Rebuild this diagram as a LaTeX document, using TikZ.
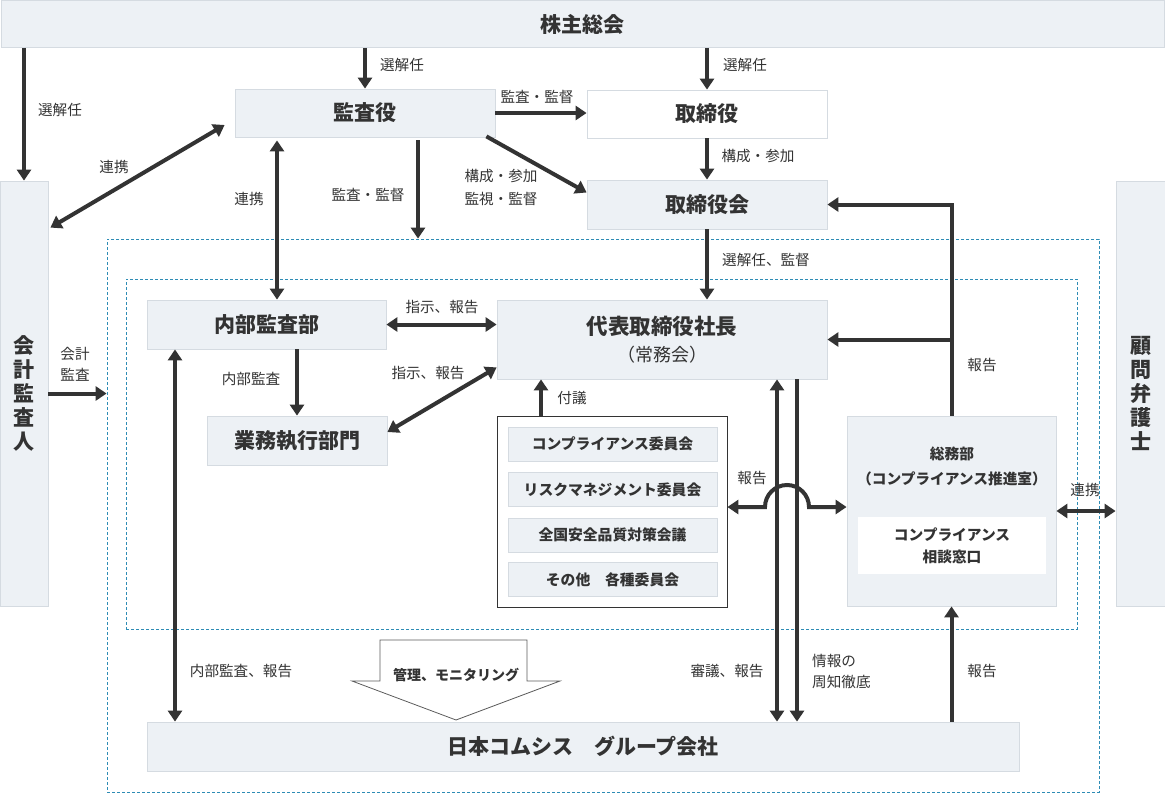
\documentclass[tikz,border=0pt]{standalone}
\usepackage{fontspec}
\setmainfont{Noto Sans CJK JP}
\usetikzlibrary{arrows.meta}
\definecolor{ink}{HTML}{333333}
\definecolor{boxfill}{HTML}{EDF1F5}
\definecolor{boxline}{HTML}{D5DBE1}
\definecolor{dashc}{HTML}{2E8CB5}
\begin{document}
\begin{tikzpicture}[x=1pt,y=1pt,>={Triangle[length=11pt,width=14pt]},
 box/.style={draw=boxline, fill=boxfill, line width=0.8pt, inner sep=0pt, text=ink, font=\fontsize{21}{25}\selectfont\bfseries, align=center},
 wbox/.style={box, fill=white},
 cbox/.style={box, font=\fontsize{14.8}{17}\selectfont\bfseries},
 dbox/.style={draw=dashc, dash pattern=on 3pt off 2pt, line width=0.8pt, inner sep=0pt},
 arr/.style={draw=ink, line width=4pt, ->},
 darr/.style={draw=ink, line width=4pt, <->},
 lbl/.style={text=ink, font=\fontsize{14.6}{21}\selectfont, inner sep=0pt, align=center},
]
\useasboundingbox (0,0) rectangle (1165,-793);
\fill[white] (0,0) rectangle (1165,-793);

% dashed frames
\node[dbox, minimum width=992pt, minimum height=553pt] (outer) at (603,-515.5) {};
\node[dbox, minimum width=951pt, minimum height=350pt] (inner) at (601.5,-454) {};

% boxes
\node[box, minimum width=1163pt, minimum height=47pt] (kabu) at (582.5,-24) {株主総会};
\node[box, minimum width=260pt, minimum height=48pt] (kansa) at (365,-113) {監査役};
\node[wbox, minimum width=240pt, minimum height=48pt] (tori) at (707,-114) {取締役};
\node[box, minimum width=240pt, minimum height=49pt] (torikai) at (707,-204.5) {取締役会};
\node[box, minimum width=48pt, minimum height=425pt, font=\fontsize{21}{24}\selectfont\bfseries] (kaikei) at (24,-393.5) {会\\計\\監\\査\\人};
\node[box, minimum width=49pt, minimum height=425pt, font=\fontsize{21}{24}\selectfont\bfseries] (komon) at (1140.5,-393.5) {顧\\問\\弁\\護\\士};
\node[box, minimum width=239pt, minimum height=49pt] (naibu) at (266.5,-324.5) {内部監査部};
\node[box, minimum width=330pt, minimum height=79pt, font=\fontsize{21.5}{27}\selectfont\bfseries] (daihyo) at (662,-339.5) {代表取締役社長\\{\fontsize{18}{20}\selectfont\mdseries （常務会）}};
\node[box, minimum width=180pt, minimum height=49pt] (gyomu) at (297,-440.5) {業務執行部門};
\node[draw=ink, fill=white, line width=0.8pt, minimum width=230pt, minimum height=191pt, inner sep=0pt] (cm) at (612,-511.5) {};
\node[cbox, minimum width=209pt, minimum height=34pt] (c1) at (612.5,-444) {コンプライアンス委員会};
\node[cbox, minimum width=209pt, minimum height=34pt] (c2) at (612.5,-489.5) {リスクマネジメント委員会};
\node[cbox, minimum width=209pt, minimum height=34pt] (c3) at (612.5,-535) {全国安全品質対策会議};
\node[cbox, minimum width=209pt, minimum height=34pt] (c4) at (612.5,-579.5) {その他　各種委員会};
\node[box, minimum width=209pt, minimum height=190pt] (gs) at (951.5,-511) {};
\node[text=ink, font=\fontsize{14.7}{25}\selectfont\bfseries, align=center, inner sep=0pt] (gst) at (952,-466) {総務部\\（コンプライアンス推進室）};
\node[fill=white, minimum width=188pt, minimum height=57pt, inner sep=0pt, text=ink, font=\fontsize{14.7}{22}\selectfont\bfseries, align=center] (gsin) at (952,-545.5) {コンプライアンス\\相談窓口};
\node[box, minimum width=872pt, minimum height=49pt] (group) at (583,-746.5) {日本コムシス　グループ会社};

% helper coordinates
\coordinate (x8) at (277,0);
\coordinate (x9) at (418,0);
\coordinate (x16) at (541,0);
\coordinate (x18) at (175,0);
\coordinate (x19) at (777,0);
\coordinate (x20) at (797,0);
\coordinate (hopy) at (0,-507);
\coordinate (hopa) at (765,-507);

% arrows
\draw[arr] (kabu.south -| kaikei.north) -- (kaikei.north);
\draw[arr] (kabu.south -| kansa.north) -- (kansa.north);
\draw[arr] (kabu.south -| tori.north) -- (tori.north);
\draw[arr] (kansa.east) -- (kansa.east -| tori.west);
\draw[arr] ([xshift=-9pt,yshift=1pt]kansa.south east) -- ([yshift=12pt]torikai.west);
\draw[arr] (tori.south) -- (torikai.north);
\draw[darr] ([xshift=-10pt,yshift=-12pt]kansa.west) -- ([xshift=2pt,yshift=-47pt]kaikei.north east);
\draw[darr] ([yshift=-3pt]x8 |- kansa.south) -- (x8 |- naibu.north);
\draw[arr] ([yshift=-3pt]x9 |- kansa.south) -- (x9 |- outer.north);
\draw[arr] (torikai.south) -- (torikai.south |- daihyo.north);
\draw[arr] (gs.north) -- (gs.north |- torikai.east) -- (torikai.east);
\draw[arr] (gs.north |- daihyo.east) -- (daihyo.east);
\draw[arr] (kaikei.east) -- (kaikei.east -| outer.west);
\draw[darr] (naibu.east) -- (naibu.east -| daihyo.west);
\draw[arr] (naibu.south -| gyomu.north) -- (gyomu.north);
\draw[darr] ([yshift=8.5pt]gyomu.east) -- ([yshift=12pt]daihyo.south west);
\draw[arr] (x16 |- cm.north) -- (x16 |- daihyo.south);
\draw[darr] (cm.east |- hopy) -- (hopa) arc[start angle=180, end angle=0, radius=22pt] -- (gs.west |- hopy);
\draw[darr] (x18 |- naibu.south) -- (x18 |- group.north);
\draw[darr] (x19 |- daihyo.south) -- (x19 |- group.north);
\draw[arr] (x20 |- daihyo.south) -- (x20 |- group.north);
\draw[arr] (group.north -| gs.south) -- (gs.south);
\draw[darr] (gs.east) -- (gs.east -| komon.west);

% big hollow arrow
\draw[draw=ink!80, fill=white, line width=0.8pt] (380,-640) -- (527,-640) -- (527,-681) -- (560,-681) -- (456,-720) -- (352,-681) -- (380,-681) -- cycle;
\node[text=ink, font=\fontsize{14}{16}\selectfont\bfseries, inner sep=0pt] (lmon) at (456,-675) {管理、モニタリング};

% labels
\node[lbl] (l1) at (60,-110) {選解任};
\node[lbl] (l2) at (402,-65) {選解任};
\node[lbl] (l3) at (745,-65) {選解任};
\node[lbl] (l4) at (537,-97) {監査・監督};
\node[lbl, font=\fontsize{14.6}{23}\selectfont] (l5) at (501,-187) {構成・参加\\監視・監督};
\node[lbl] (l6) at (758,-156) {構成・参加};
\node[lbl] (l7) at (114,-167) {連携};
\node[lbl] (l8) at (249,-199) {連携};
\node[lbl] (l9) at (368,-195) {監査・監督};
\node[lbl] (l10) at (766,-260) {選解任、監督};
\node[lbl] (l11) at (982,-365) {報告};
\node[lbl] (l12) at (75,-364) {会計\\監査};
\node[lbl] (l13) at (442,-307) {指示、報告};
\node[lbl] (l14) at (251,-379) {内部監査};
\node[lbl] (l15) at (428,-373) {指示、報告};
\node[lbl] (l16) at (572,-398) {付議};
\node[lbl] (l17) at (752,-478) {報告};
\node[lbl] (l18) at (241,-671) {内部監査、報告};
\node[lbl] (l19) at (727,-671) {審議、報告};
\node[lbl, align=left, anchor=west] (l20) at (812,-671) {情報の\\周知徹底};
\node[lbl] (l21) at (982,-671) {報告};
\node[lbl] (l22) at (1085,-490) {連携};
\end{tikzpicture}
\end{document}
